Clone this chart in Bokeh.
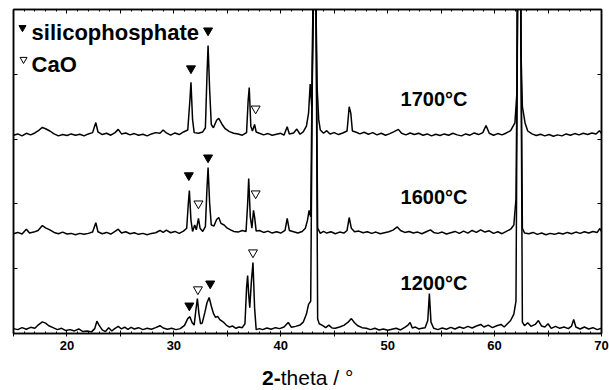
from bokeh.plotting import figure
from bokeh.models import Range1d, LinearAxis, FixedTicker, Div, CustomJSTickFormatter
from bokeh.layouts import column
from bokeh.embed import file_html
from bokeh.resources import INLINE
from bokeh.core.properties import value

# ---------------- data (2-theta in degrees, stacked intensity in arbitrary units) ----------------
trace_1700 = [
    (15.0, 61.2), (15.4, 61.6), (15.8, 61.0), (16.2, 61.8), (16.6, 61.3), (17.0, 61.9), (17.4, 62.8),
    (17.7, 63.6), (18.0, 63.2), (18.4, 62.5), (18.8, 61.6), (19.2, 61.0), (19.6, 61.4), (20.0, 61.1),
    (20.4, 61.6), (20.8, 61.2), (21.2, 61.5), (21.6, 61.0), (22.0, 61.6), (22.4, 62.0), (22.7, 65.1),
    (22.9, 62.2), (23.3, 61.4), (23.7, 61.8), (24.1, 61.2), (24.5, 62.0), (24.8, 63.0), (25.1, 61.6),
    (25.5, 61.9), (25.9, 61.3), (26.3, 61.7), (26.7, 61.2), (27.1, 61.5), (27.5, 61.0), (27.9, 61.6),
    (28.3, 62.0), (28.7, 61.8), (29.0, 62.8), (29.3, 61.9), (29.7, 61.2), (30.1, 61.9), (30.5, 61.4),
    (30.9, 62.2), (31.3, 62.8), (31.5, 72.0), (31.6, 77.5), (31.75, 66.0), (31.9, 62.0), (32.3, 61.8),
    (32.7, 62.2), (32.95, 63.5), (33.1, 80.0), (33.2, 88.9), (33.35, 75.0), (33.5, 64.5), (33.7, 63.5),
    (34.0, 65.8), (34.2, 66.4), (34.5, 64.6), (34.8, 63.2), (35.2, 62.3), (35.6, 61.8), (36.0, 61.6),
    (36.4, 61.2), (36.8, 62.0), (36.95, 72.0), (37.05, 75.9), (37.2, 64.0), (37.35, 62.5), (37.55, 64.5),
    (37.7, 62.2), (38.0, 61.8), (38.4, 61.3), (38.8, 61.7), (39.2, 61.2), (39.6, 61.5), (40.0, 61.8),
    (40.3, 61.2), (40.6, 63.8), (40.8, 61.6), (41.2, 61.9), (41.5, 63.1), (41.8, 61.5), (42.1, 62.2),
    (42.4, 64.0), (42.6, 68.0), (42.75, 77.0), (42.9, 70.0), (43.05, 100.0), (43.15, 1000.0),
    (43.3, 100.0), (43.4, 76.0), (43.55, 66.0), (43.7, 62.8), (44.0, 61.8), (44.3, 62.6), (44.6, 61.6),
    (45.0, 62.0), (45.4, 61.4), (45.8, 61.9), (46.2, 62.5), (46.4, 70.0), (46.55, 68.0), (46.7, 62.5),
    (47.0, 62.2), (47.4, 61.6), (47.8, 62.1), (48.2, 61.5), (48.6, 62.0), (49.0, 61.3), (49.4, 61.8),
    (49.8, 61.2), (50.2, 61.7), (50.6, 62.3), (51.0, 63.0), (51.3, 61.8), (51.7, 61.3), (52.1, 61.9),
    (52.5, 61.4), (52.9, 61.8), (53.3, 61.2), (53.7, 61.6), (54.1, 61.0), (54.5, 61.5), (54.9, 61.1),
    (55.3, 61.6), (55.7, 61.2), (56.1, 61.8), (56.5, 61.3), (56.9, 61.0), (57.3, 61.6), (57.7, 61.2),
    (58.1, 61.9), (58.5, 61.4), (58.9, 62.0), (59.2, 64.2), (59.5, 61.8), (59.9, 61.2), (60.3, 61.7),
    (60.7, 61.3), (61.1, 61.9), (61.5, 62.6), (61.9, 65.0), (62.1, 75.0), (62.25, 1000.0), (62.45, 90.0),
    (62.6, 70.0), (62.85, 65.0), (63.1, 62.5), (63.5, 61.6), (63.9, 61.1), (64.3, 61.5), (64.7, 61.0),
    (65.1, 61.4), (65.5, 60.9), (65.9, 61.3), (66.3, 61.0), (66.7, 61.6), (67.1, 61.2), (67.5, 61.7),
    (67.9, 61.3), (68.3, 61.8), (68.7, 61.4), (69.1, 61.9), (69.5, 61.6), (69.8, 62.6), (70.0, 61.8),
]

trace_1600 = [
    (15.0, 30.8), (15.4, 31.2), (15.8, 30.7), (16.2, 32.2), (16.5, 31.0), (16.9, 31.3), (17.3, 31.8),
    (17.7, 33.3), (18.0, 32.6), (18.4, 32.0), (18.8, 31.2), (19.2, 30.8), (19.6, 31.3), (20.0, 30.7),
    (20.4, 30.9), (20.8, 30.5), (21.2, 30.9), (21.6, 30.6), (22.0, 30.9), (22.4, 31.3), (22.7, 34.2),
    (22.9, 31.4), (23.3, 30.8), (23.7, 31.2), (24.1, 30.7), (24.5, 31.5), (24.8, 32.2), (25.1, 31.0),
    (25.5, 31.4), (25.9, 30.8), (26.3, 31.1), (26.7, 30.6), (27.1, 30.9), (27.5, 30.5), (27.9, 30.9),
    (28.3, 31.1), (28.7, 31.8), (29.0, 31.2), (29.3, 31.9), (29.7, 31.1), (30.1, 31.5), (30.5, 30.9),
    (30.9, 31.6), (31.2, 32.5), (31.35, 40.0), (31.45, 44.1), (31.6, 35.0), (31.75, 31.5), (31.95, 33.5),
    (32.1, 32.0), (32.3, 35.5), (32.45, 32.5), (32.7, 31.5), (32.95, 33.0), (33.1, 45.0), (33.2, 51.2),
    (33.35, 40.0), (33.5, 33.5), (33.75, 33.2), (34.0, 35.2), (34.2, 35.8), (34.4, 34.0), (34.7, 33.5),
    (35.0, 32.5), (35.3, 32.0), (35.6, 31.5), (36.0, 31.3), (36.4, 31.8), (36.75, 31.5), (36.9, 40.0),
    (37.0, 47.8), (37.15, 36.0), (37.3, 32.5), (37.45, 38.0), (37.55, 36.0), (37.7, 31.6), (38.0, 31.8),
    (38.4, 31.2), (38.8, 31.6), (39.2, 31.0), (39.6, 31.4), (40.0, 31.0), (40.4, 31.8), (40.6, 35.5),
    (40.8, 31.8), (41.2, 31.4), (41.6, 31.0), (42.0, 31.5), (42.3, 32.5), (42.5, 35.0), (42.65, 38.0),
    (42.8, 36.0), (43.0, 100.0), (43.15, 1000.0), (43.3, 100.0), (43.45, 32.5), (43.7, 30.9),
    (44.0, 31.5), (44.3, 31.0), (44.7, 31.4), (45.1, 30.8), (45.5, 31.3), (45.9, 31.0), (46.2, 31.8),
    (46.4, 35.8), (46.6, 32.5), (46.9, 31.4), (47.3, 31.6), (47.7, 31.1), (48.1, 31.4), (48.5, 30.9),
    (48.9, 31.3), (49.3, 30.8), (49.7, 31.1), (50.1, 31.4), (50.5, 31.9), (50.9, 32.9), (51.2, 31.8),
    (51.6, 31.2), (52.0, 31.5), (52.4, 31.0), (52.8, 31.3), (53.2, 30.8), (53.6, 31.4), (54.0, 32.0),
    (54.3, 31.2), (54.7, 30.9), (55.1, 31.3), (55.5, 30.7), (55.9, 31.1), (56.3, 31.5), (56.7, 30.9),
    (57.1, 31.6), (57.5, 31.0), (57.9, 31.8), (58.3, 31.2), (58.7, 32.0), (59.1, 31.3), (59.5, 31.7),
    (59.9, 30.9), (60.3, 31.4), (60.7, 30.8), (61.1, 31.5), (61.5, 32.2), (61.8, 33.5), (62.0, 41.5),
    (62.15, 100.0), (62.25, 1000.0), (62.45, 100.0), (62.6, 32.5), (62.8, 31.0), (63.2, 30.8),
    (63.6, 31.2), (64.0, 30.6), (64.4, 31.0), (64.8, 30.5), (65.2, 30.9), (65.6, 30.6), (66.0, 31.0),
    (66.4, 30.7), (66.8, 31.2), (67.2, 30.8), (67.6, 31.3), (68.0, 30.9), (68.4, 31.4), (68.8, 31.0),
    (69.2, 31.5), (69.6, 31.2), (69.85, 32.4), (70.0, 31.5),
]

trace_1200 = [
    (15.0, 1.5), (15.4, 1.2), (15.8, 1.8), (16.2, 1.3), (16.6, 1.9), (17.0, 1.6), (17.3, 2.6),
    (17.7, 3.6), (18.0, 3.2), (18.3, 2.4), (18.7, 1.8), (19.1, 1.2), (19.5, 1.6), (19.9, 0.9),
    (20.3, 1.2), (20.7, 0.8), (21.1, 1.4), (21.5, 0.6), (21.9, 0.8), (22.3, 0.5), (22.6, 1.5),
    (22.8, 3.8), (23.0, 2.6), (23.3, 1.1), (23.6, 0.6), (23.9, 1.8), (24.2, 0.8), (24.5, 1.6),
    (24.8, 2.2), (25.1, 1.4), (25.4, 2.0), (25.7, 1.3), (26.0, 1.9), (26.3, 1.4), (26.7, 1.8),
    (27.1, 1.2), (27.5, 1.6), (27.9, 1.3), (28.3, 1.8), (28.7, 2.4), (29.0, 1.7), (29.4, 1.3),
    (29.8, 1.6), (30.2, 1.2), (30.6, 1.5), (31.0, 2.5), (31.3, 4.6), (31.5, 5.2), (31.7, 3.4),
    (31.9, 2.6), (32.05, 7.0), (32.2, 10.8), (32.35, 6.0), (32.5, 3.0), (32.65, 3.2), (32.9, 6.5),
    (33.1, 9.5), (33.3, 11.1), (33.5, 8.5), (33.7, 6.2), (33.9, 5.0), (34.1, 5.3), (34.3, 4.3),
    (34.6, 3.6), (34.9, 2.6), (35.2, 2.0), (35.5, 2.3), (35.8, 1.6), (36.1, 2.0), (36.4, 1.8),
    (36.65, 3.0), (36.8, 14.0), (36.9, 17.9), (37.0, 12.0), (37.1, 8.0), (37.25, 16.0), (37.4, 21.9),
    (37.55, 8.0), (37.7, 1.2), (38.0, 1.5), (38.3, 1.2), (38.7, 1.7), (39.1, 1.3), (39.5, 1.8),
    (39.9, 1.5), (40.3, 2.0), (40.7, 3.4), (41.0, 1.9), (41.4, 2.2), (41.8, 2.6), (42.1, 3.5),
    (42.4, 6.0), (42.6, 9.0), (42.8, 10.0), (43.0, 100.0), (43.15, 1000.0), (43.3, 100.0),
    (43.45, 4.5), (43.6, 3.0), (43.9, 2.5), (44.2, 1.8), (44.5, 2.6), (44.8, 1.7), (45.1, 1.6),
    (45.5, 2.0), (45.9, 2.5), (46.3, 3.5), (46.6, 4.6), (46.9, 3.3), (47.2, 2.4), (47.6, 1.8),
    (48.0, 1.6), (48.4, 1.2), (48.8, 1.6), (49.2, 1.1), (49.6, 1.4), (50.0, 1.0), (50.4, 1.3),
    (50.8, 1.6), (51.2, 1.1), (51.6, 1.9), (51.9, 2.6), (52.1, 3.4), (52.3, 1.7), (52.6, 2.0),
    (52.9, 1.4), (53.2, 1.6), (53.5, 1.8), (53.75, 4.0), (53.9, 12.3), (54.05, 3.5), (54.3, 1.6),
    (54.7, 1.2), (55.1, 1.7), (55.5, 1.3), (55.9, 1.9), (56.3, 1.4), (56.7, 2.0), (57.1, 1.6),
    (57.5, 2.2), (57.9, 1.7), (58.3, 2.3), (58.7, 2.8), (59.0, 2.0), (59.4, 2.6), (59.8, 1.8),
    (60.2, 2.4), (60.6, 2.8), (60.9, 2.0), (61.2, 3.0), (61.5, 4.0), (61.8, 6.0), (62.0, 10.0),
    (62.15, 100.0), (62.25, 1000.0), (62.45, 100.0), (62.6, 3.5), (62.8, 2.4), (63.1, 3.3),
    (63.4, 2.2), (63.8, 2.8), (64.1, 4.0), (64.4, 2.3), (64.7, 2.0), (65.0, 3.0), (65.3, 1.6),
    (65.7, 2.2), (66.1, 1.6), (66.5, 2.0), (66.9, 1.5), (67.2, 2.3), (67.4, 4.3), (67.6, 2.0),
    (68.0, 1.4), (68.4, 2.0), (68.8, 1.4), (69.2, 1.8), (69.6, 1.2), (70.0, 1.6),
]

# phase markers (2-theta, height of marker)
silicophosphate_theta = [31.6, 33.2, 31.4, 33.2, 31.45, 33.4]
silicophosphate_y = [81.8, 93.5, 48.8, 54.3, 8.6, 15.4]
cao_theta = [37.65, 32.3, 37.65, 32.25, 37.4]
cao_y = [69.4, 40.1, 43.2, 13.6, 25.0]

series_labels = ["1700°C", "1600°C", "1200°C"]
x_ticks = [15, 20, 25, 30, 35, 40, 45, 50, 55, 60, 65, 70]
x_tick_labels = {15: "", 20: "20", 25: "", 30: "30", 35: "", 40: "40", 45: "", 50: "50",
                 55: "", 60: "60", 65: "", 70: "70"}
y_ticks = [0, 20, 40, 60, 80, 100]

# ---------------- figure ----------------
FONT = value("Liberation Sans")
p = figure(width=609, height=360, output_backend="svg", toolbar_location=None,
           x_range=Range1d(15, 70), y_range=Range1d(0, 100),
           min_border_left=13, min_border_right=8, min_border_top=9, min_border_bottom=27)
p.grid.visible = False
p.background_fill_color = "white"
p.border_fill_color = "white"
p.outline_line_color = "black"
p.outline_line_width = 1.5

minor = list(range(15, 71))
xt = FixedTicker(ticks=x_ticks, minor_ticks=minor)
yt = FixedTicker(ticks=y_ticks, minor_ticks=[])

xa = p.xaxis[0]
xa.ticker = xt
xa.major_label_overrides = x_tick_labels
xa.major_label_text_font = "Liberation Sans"
xa.major_label_text_font_style = "bold"
xa.major_label_text_font_size = "13px"
xa.major_label_text_color = "black"
xa.major_label_standoff = 4
xa.major_tick_in = 3
xa.major_tick_out = 3
xa.minor_tick_in = 2
xa.minor_tick_out = 0
xa.axis_line_width = 1.5
xa.axis_line_color = "black"
xa.major_tick_line_color = "black"
xa.minor_tick_line_color = "black"

def hidden_axis(ax, ticker):
    ax.ticker = ticker
    ax.formatter = CustomJSTickFormatter(code="return ''")
    ax.major_label_standoff = 0
    ax.major_tick_in = 4
    ax.major_tick_out = 0
    ax.minor_tick_in = 2
    ax.minor_tick_out = 0
    ax.axis_line_width = 1.5
    ax.axis_line_color = "black"
    ax.major_tick_line_color = "black"
    ax.minor_tick_line_color = "black"

hidden_axis(p.yaxis[0], yt)
right_ax = LinearAxis()
hidden_axis(right_ax, FixedTicker(ticks=y_ticks, minor_ticks=[]))
p.add_layout(right_ax, "right")
top_ax = LinearAxis()
hidden_axis(top_ax, FixedTicker(ticks=x_ticks, minor_ticks=minor))
p.add_layout(top_ax, "above")

for tr in (trace_1700, trace_1600, trace_1200):
    xs = [a for a, b in tr]
    ys = [b for a, b in tr]
    p.line(xs, ys, line_color="black", line_width=1.5)

p.scatter(silicophosphate_theta, silicophosphate_y, marker="inverted_triangle", size=9,
          fill_color="black", line_color="black")
p.scatter(cao_theta, cao_y, marker="inverted_triangle", size=9,
          fill_color="white", line_color="black", line_width=1)

# legend
p.scatter([15.84], [94.4], marker="inverted_triangle", size=7, fill_color="black", line_color="black")
p.scatter([15.94], [84.6], marker="inverted_triangle", size=7, fill_color="white", line_color="black",
          line_width=1)
p.text(x=[16.69, 16.69], y=[93.0, 83.0], text=["silicophosphate", "CaO"], text_font=FONT,
       text_font_style="bold", text_font_size="22px", text_color="black",
       text_baseline="alphabetic", text_align="left")

# temperature labels
p.text(x=[51.2, 51.2, 51.2], y=[72.5, 42.0, 15.7], text=series_labels, text_font=FONT,
       text_font_style="bold", text_font_size="20px", text_color="black",
       text_baseline="alphabetic", text_align="left")

# x-axis title (bold "2-" + regular "theta / °")
title = Div(width=609, height=30,
            text='<div style="padding-top:1px; padding-left:257px; font-family:\'Liberation Sans\'; '
                 'font-size:21px; line-height:24px; color:black; white-space:nowrap;">'
                 '<b>2-</b>theta / °</div>')

layout = column(p, title, spacing=0)
open("out.html", "w").write(file_html(layout, INLINE))
